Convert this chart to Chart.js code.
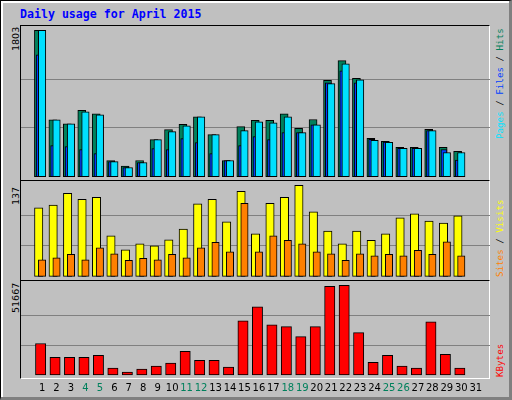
<!DOCTYPE html>
<html><head><meta charset="utf-8">
<script src="https://cdn.jsdelivr.net/npm/chart.js@4"></script>
<style>
html,body{margin:0;padding:0;background:#c0c0c0;}
#frame{position:absolute;left:0;top:0;width:508px;height:396px;border:1px solid #000;border-right:3px solid #808080;border-bottom:3px solid #808080;background:#c0c0c0;box-shadow:inset 2px 2px 0 #fff;}
.panel{position:absolute;left:20px;width:470px;border-top:1px solid #000;border-left:1px solid #000;border-right:1px solid #fff;border-bottom:1px solid #fff;box-sizing:border-box;}
canvas{position:absolute;}
.t{position:absolute;font-family:"DejaVu Sans Mono",monospace;white-space:nowrap;}
.rot{transform:rotate(-90deg);transform-origin:0 0;}
</style></head><body>
<div id="frame"></div>
<div class="t" style="left:20px;top:7px;font-size:11.6px;font-weight:bold;color:#0000ff;">Daily usage for April 2015</div>
<div class="panel" style="top:25px;height:156px;"></div>
<div class="panel" style="top:180px;height:101px;"></div>
<div class="panel" style="top:280px;height:99px;"></div>
<div class="t rot" style="left:10px;top:51px;font-family:'DejaVu Sans';font-size:9.5px;">1803</div>
<div class="t rot" style="left:10px;top:205px;font-family:'DejaVu Sans';font-size:9.5px;">137</div>
<div class="t rot" style="left:10px;top:313px;font-family:'DejaVu Sans';font-size:9.5px;">51667</div>
<div class="t rot" style="left:494px;top:139px;font-size:9.2px;"><span style="color:#00e0ff">Pages</span> / <span style="color:#0040ff">Files</span> / <span style="color:#00805c">Hits</span></div>
<div class="t rot" style="left:494px;top:277px;font-size:9.2px;"><span style="color:#ff8000">Sites</span> / <span style="color:#ffff00">Visits</span></div>
<div class="t rot" style="left:494px;top:377px;font-size:9.2px;color:#ff0000;">KBytes</div>
<canvas id="c1" style="left:21px;top:26px;"></canvas>
<canvas id="c2" style="left:21px;top:181px;"></canvas>
<canvas id="c3" style="left:21px;top:281px;"></canvas>
<script>
const days = Array.from({length:31},(_, i)=>i+1);
const weekendDays = [4,5,11,12,18,19,25,26];
const hits  = [1803,701,652,816,774,200,130,200,457,579,644,738,518,200,616,693,693,774,596,705,1186,1428,1210,473,436,363,363,583,363,314];
const files = [1501,384,371,335,285,187,114,175,347,335,469,420,285,200,384,494,457,543,543,640,1157,1303,1157,461,428,351,351,567,335,204];
const pages = [1803,701,652,800,762,187,114,175,457,555,628,738,518,200,567,677,665,738,543,640,1145,1388,1193,449,424,351,351,567,298,298];
const visits = [103,107,125,116,119,61,40,49,46,55,71,109,116,82,128,64,110,119,137,97,68,49,68,54,64,88,94,83,80,91];
const sites  = [25,28,33,25,43,34,24,27,25,33,28,43,51,37,110,37,61,54,49,37,34,24,34,31,33,31,39,33,52,31];
const kbytes = [18169,10220,10220,10220,11355,3974,1703,3407,5110,6813,13627,8517,8517,4542,31227,39176,28956,27821,22143,27821,51099,51667,24414,7381,11355,5110,3974,30659,11923,3974];
const maxHits = 1803, maxVisits = 137, maxKB = 51667;

const pts = (arr, off) => arr.map((v,i)=>({x:days[i]+off, y:v}));
function mk(id, w, h, datasets, ymin, ymax, ymaxLabel, showX){
  const c = document.getElementById(id); c.width=w; c.height=h; c.style.width=w+'px'; c.style.height=h+'px';
  const xs = {type:'linear', min:0.133-1/15, max:31.53-1/15, display:showX, border:{display:false}, grid:{display:false, drawTicks:false},
           afterBuildTicks:s=>{s.ticks=days.map(d=>({value:d}));},
           ticks:{padding:4, autoSkip:false, maxRotation:0, font:{family:'DejaVu Sans', size:10},
             color:ctx=>weekendDays.includes(ctx.tick.value)?'#00805c':'#000', callback:v=>String(v)}};
  if (showX) xs.afterFit = s=>{s.height=18;};
  new Chart(c, {type:'bar', data:{datasets},
    options:{responsive:false, animation:false, devicePixelRatio:1,
      plugins:{legend:{display:false}, tooltip:{enabled:false}},
      layout:{padding:0},
      datasets:{bar:{grouped:false, borderColor:'#000', borderWidth:1, borderSkipped:false}},
      scales:{
        x:xs,
        y:{min:ymin, max:ymax, border:{display:false},
           afterBuildTicks:s=>{s.ticks=[{value:ymaxLabel/3},{value:ymaxLabel*2/3}];},
           afterFit:s=>{s.width=0;},
           ticks:{display:false}, grid:{color:'#808080', lineWidth:1, drawTicks:false}}
      }}});
}
mk('c1', 469, 154, [
  {data:pts(pages,0), backgroundColor:'#00e0ff', barThickness:7.5},
  {data:pts(files,-0.2), backgroundColor:'#0040ff', barThickness:6},
  {data:pts(hits,-0.253), backgroundColor:'#00805c', barThickness:8}
], -40, 1855, maxHits, false);
mk('c2', 469, 99, [
  {data:pts(sites,0), backgroundColor:'#ff8000', barThickness:7.4},
  {data:pts(visits,-0.233), backgroundColor:'#ffff00', barThickness:8.4}
], -5.5, 143.4, maxVisits, false);
mk('c3', 469, 115, [
  {data:pts(kbytes,-0.1), backgroundColor:'#ff0000', barThickness:10.3}
], -1703, 54110, maxKB, true);
</script>
</body></html>
